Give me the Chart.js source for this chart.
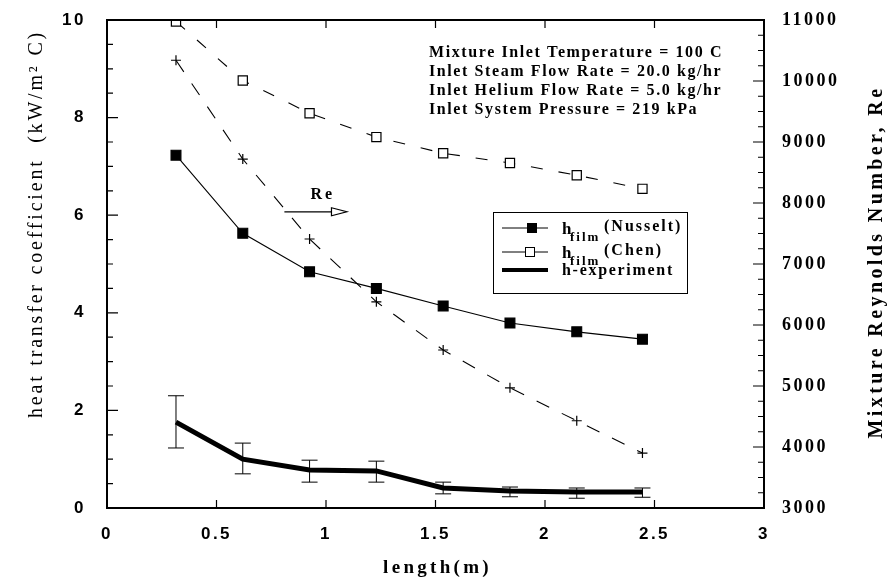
<!DOCTYPE html>
<html>
<head>
<meta charset="utf-8">
<script src="https://cdn.jsdelivr.net/npm/chart.js@4/dist/chart.umd.min.js"></script>
<style>
  html, body { margin: 0; padding: 0; background: #fff; }
  #wrap { width: 891px; height: 586px; }
</style>
</head>
<body>
<div id="wrap"><canvas id="c" width="891" height="586"></canvas></div>
<script>
// Datos
const lengthM   = [0.315, 0.62, 0.925, 1.23, 1.535, 1.84, 2.145, 2.445];
const hNusselt  = [7.23, 5.63, 4.84, 4.50, 4.14, 3.79, 3.61, 3.46];
const hChen     = [9.97, 8.76, 8.09, 7.60, 7.27, 7.07, 6.82, 6.54];
const reynolds  = [10340, 8720, 7410, 6380, 5590, 4970, 4430, 3900];
const hExp      = [1.76, 1.00, 0.78, 0.76, 0.41, 0.35, 0.33, 0.33];
const hExpHigh  = [2.30, 1.33, 0.98, 0.96, 0.53, 0.43, 0.41, 0.41];
const hExpLow   = [1.23, 0.70, 0.53, 0.53, 0.29, 0.23, 0.20, 0.22];

const conditions = [
  "Mixture Inlet Temperature = 100 C",
  "Inlet Steam Flow Rate = 20.0 kg/hr",
  "Inlet Helium Flow Rate = 5.0 kg/hr",
  "Inlet System Pressure = 219 kPa"
];

const pts = ys => lengthM.map((x, i) => ({ x, y: ys[i] }));

// Dibujo de adornos: marco, ticks internos, barras de error, leyenda, textos
const decor = {
  id: "decor",
  beforeDraw(chart) {
    chart.ctx.letterSpacing = "2.5px";
  },
  afterDatasetsDraw(chart) {
    const { ctx, scales: { x, yH } } = chart;
    ctx.save();
    ctx.strokeStyle = "#000";
    ctx.lineWidth = 1;
    lengthM.forEach((v, i) => {
      const px = x.getPixelForValue(v);
      const hi = yH.getPixelForValue(hExpHigh[i]);
      const lo = yH.getPixelForValue(hExpLow[i]);
      ctx.beginPath();
      ctx.moveTo(px, hi); ctx.lineTo(px, lo);
      ctx.moveTo(px - 8, hi); ctx.lineTo(px + 8, hi);
      ctx.moveTo(px - 8, lo); ctx.lineTo(px + 8, lo);
      ctx.stroke();
    });
    ctx.restore();
  },
  afterDraw(chart) {
    const { ctx, chartArea: a, scales: { x, yH, yRe } } = chart;
    ctx.save();
    ctx.strokeStyle = "#000";
    ctx.fillStyle = "#000";

    // marco
    ctx.lineWidth = 2;
    ctx.strokeRect(a.left, a.top, a.right - a.left, a.bottom - a.top);

    // ticks
    ctx.lineWidth = 1.2;
    ctx.beginPath();
    for (let v = 0.5; v < 3; v += 0.5) {
      const px = x.getPixelForValue(v);
      ctx.moveTo(px, a.bottom); ctx.lineTo(px, a.bottom - 8);
      ctx.moveTo(px, a.top); ctx.lineTo(px, a.top + 8);
    }
    for (let v = 0.5; v < 10; v += 0.5) {
      const py = yH.getPixelForValue(v);
      const len = v % 2 === 0 ? 11 : 6;
      ctx.moveTo(a.left, py); ctx.lineTo(a.left + len, py);
    }
    for (let v = 3250; v < 11000; v += 250) {
      const py = yRe.getPixelForValue(v);
      const len = v % 1000 === 0 ? 11 : 6;
      ctx.moveTo(a.right, py); ctx.lineTo(a.right - len, py);
    }
    ctx.stroke();

    // títulos de ejes
    ctx.textAlign = "center";
    ctx.textBaseline = "middle";
    ctx.letterSpacing = "2.8px";
    ctx.font = "20px 'Liberation Serif'";
    ctx.save();
    ctx.translate(37, 224);
    ctx.rotate(-Math.PI / 2);
    ctx.fillText("heat transfer coefficient  (kW/m² C)", 0, 0);
    ctx.restore();

    ctx.font = "bold 20px 'Liberation Serif'";
    ctx.letterSpacing = "3.4px";
    ctx.save();
    ctx.translate(877, 262);
    ctx.rotate(-Math.PI / 2);
    ctx.fillText("Mixture Reynolds Number, Re", 0, 0);
    ctx.restore();

    ctx.font = "bold 19px 'Liberation Serif'";
    ctx.letterSpacing = "3.3px";
    ctx.fillText("length(m)", (a.left + a.right) / 2 + 2, 568);

    // condiciones
    ctx.textAlign = "left";
    ctx.font = "bold 16px 'Liberation Serif'";
    ctx.letterSpacing = "1.6px";
    conditions.forEach((t, i) => ctx.fillText(t, 429, 53 + i * 18.8));

    // flecha Re
    const y0 = yH.getPixelForValue(6.07);
    const xs = x.getPixelForValue(0.81), xe = x.getPixelForValue(1.025), xt = x.getPixelForValue(1.095);
    ctx.lineWidth = 1.2;
    ctx.beginPath();
    ctx.moveTo(xs, y0); ctx.lineTo(xe, y0);
    ctx.stroke();
    ctx.beginPath();
    ctx.moveTo(xe, y0 - 4); ctx.lineTo(xt, y0); ctx.lineTo(xe, y0 + 4); ctx.closePath();
    ctx.fillStyle = "#fff"; ctx.fill(); ctx.stroke();
    ctx.fillStyle = "#000";
    ctx.textAlign = "center";
    ctx.font = "bold 16px 'Liberation Serif'";
    ctx.letterSpacing = "3px";
    ctx.fillText("Re", x.getPixelForValue(0.985), yH.getPixelForValue(6.41));

    // leyenda
    ctx.lineWidth = 1;
    ctx.strokeRect(493.5, 212.5, 194, 81);
    ctx.textAlign = "left";
    const rows = [
      { y: 228, main: "(Nusselt)" },
      { y: 252, main: "(Chen)" }
    ];
    rows.forEach((r, i) => {
      ctx.beginPath();
      ctx.moveTo(502, r.y); ctx.lineTo(548, r.y);
      ctx.stroke();
      if (i === 0) {
        ctx.fillRect(527, r.y - 5, 10, 10);
      } else {
        ctx.fillStyle = "#fff";
        ctx.fillRect(525, r.y - 5, 10, 10);
        ctx.strokeRect(525.5, r.y - 4.5, 9, 9);
        ctx.fillStyle = "#000";
      }
      ctx.letterSpacing = "1px";
      ctx.font = "bold 17px 'Liberation Serif'";
      ctx.fillText("h", 562, r.y + 2);
      ctx.font = "bold 13px 'Liberation Serif'";
      ctx.letterSpacing = "2px";
      ctx.fillText("film", 570, r.y + 10);
      ctx.font = "bold 16px 'Liberation Serif'";
      ctx.letterSpacing = "2px";
      ctx.fillText(r.main, 604, r.y - 1);
    });
    ctx.lineWidth = 4;
    ctx.beginPath();
    ctx.moveTo(502, 270); ctx.lineTo(548, 270);
    ctx.stroke();
    ctx.font = "bold 16px 'Liberation Serif'";
    ctx.letterSpacing = "1.7px";
    ctx.fillText("h-experiment", 562, 271);

    ctx.restore();
  }
};

const noPad = s => { s.paddingTop = 0; s.paddingBottom = 0; s.paddingLeft = 0; s.paddingRight = 0; };

new Chart(document.getElementById("c"), {
  type: "line",
  data: {
    datasets: [
      {
        label: "h-experiment", data: pts(hExp), yAxisID: "yH",
        borderColor: "#000", borderWidth: 5, pointRadius: 0, tension: 0
      },
      {
        label: "h film (Nusselt)", data: pts(hNusselt), yAxisID: "yH",
        borderColor: "#000", borderWidth: 1.1,
        pointStyle: "rect", pointRadius: 7, pointBackgroundColor: "#000", pointBorderColor: "#000"
      },
      {
        label: "h film (Chen)", data: pts(hChen), yAxisID: "yH",
        borderColor: "#000", borderWidth: 1.1, borderDash: [12, 16],
        pointStyle: "rect", pointRadius: 6.5, pointBackgroundColor: "#fff",
        pointBorderColor: "#000", pointBorderWidth: 1.2
      },
      {
        label: "Re", data: pts(reynolds), yAxisID: "yRe",
        borderColor: "#000", borderWidth: 1.1, borderDash: [14, 14],
        pointStyle: "cross", pointRadius: 5, pointBorderColor: "#000", pointBorderWidth: 1.2
      }
    ]
  },
  options: {
    responsive: false,
    animation: false,
    devicePixelRatio: 1,
    layout: { padding: { top: 20, left: 0, right: 0, bottom: 0 } },
    plugins: { legend: { display: false }, tooltip: { enabled: false } },
    scales: {
      x: {
        type: "linear", position: "bottom", min: 0, max: 3,
        grid: { display: false, drawTicks: false },
        border: { display: false },
        ticks: {
          stepSize: 0.5, maxRotation: 0, padding: 16, color: "#000",
          callback: v => String(v),
          font: { family: "'Liberation Sans'", size: 17, weight: "bold" }
        },
        afterFit: s => { s.height = 78; noPad(s); }
      },
      yH: {
        type: "linear", position: "left", min: 0, max: 10,
        grid: { display: false, drawTicks: false },
        border: { display: false },
        ticks: {
          stepSize: 2, padding: 21, color: "#000",
          font: { family: "'Liberation Sans'", size: 17, weight: "bold" }
        },
        afterFit: s => { s.width = 107; noPad(s); }
      },
      yRe: {
        type: "linear", position: "right", min: 3000, max: 11000,
        grid: { display: false, drawTicks: false },
        border: { display: false },
        ticks: {
          stepSize: 1000, padding: 18, color: "#000",
          callback: v => String(v),
          font: { family: "'Liberation Serif'", size: 18, weight: "bold" }
        },
        afterFit: s => { s.width = 127; noPad(s); }
      }
    }
  },
  plugins: [decor]
});
</script>
</body>
</html>
